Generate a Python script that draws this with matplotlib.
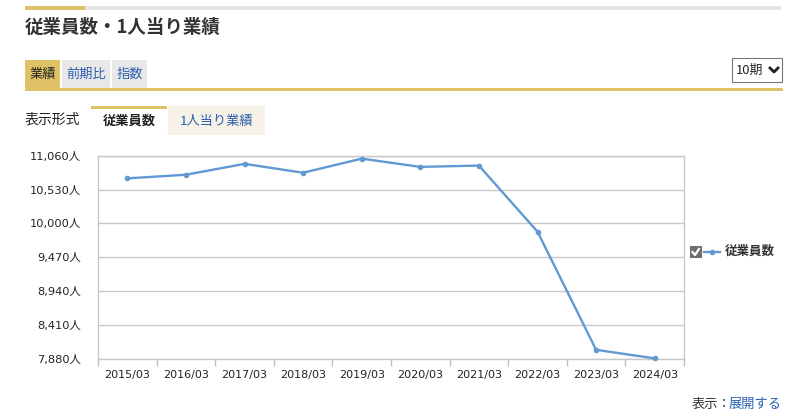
import matplotlib
matplotlib.use("Agg")
import matplotlib.pyplot as plt
from matplotlib.patches import Rectangle
from matplotlib.lines import Line2D

plt.rcParams['font.family'] = ['DejaVu Sans', 'Noto Sans CJK JP']

# ---- data ----
periods = ['2015/03', '2016/03', '2017/03', '2018/03', '2019/03',
           '2020/03', '2021/03', '2022/03', '2023/03', '2024/03']
employees = [10705, 10762, 10932, 10793, 11014, 10885, 10905, 9870, 8019, 7885]
yticks = [7880, 8410, 8940, 9470, 10000, 10530, 11060]
series_name = '従業員数'

W, H = 808, 420
fig = plt.figure(figsize=(W / 100, H / 100), dpi=100)
fig.patch.set_facecolor('white')

def fx(px):
    return px / W

def fy(py):
    return 1 - py / H

def rect(x0, y0, x1, y1, fc, ec='none', lw=0):
    r = Rectangle((fx(x0), fy(y1)), (x1 - x0) / W, (y1 - y0) / H,
                  transform=fig.transFigure, facecolor=fc, edgecolor=ec, lw=lw)
    fig.add_artist(r)

def txt(x, y, s, size, color='#333333', weight='normal', ha='left', va='center', fam=None):
    fam = fam or ['Noto Sans CJK JP', 'DejaVu Sans']
    fig.text(fx(x), fy(y), s, fontsize=size, color=color, weight=weight,
             ha=ha, va=va, family=fam)

GOLD = '#dfc266'
LINK = '#2b5fae'

# top decorative line
rect(25, 6, 85, 9.5, GOLD)
rect(85, 6, 781, 9.5, '#e2e2e2')

# title
txt(25, 27, '従業員数・1人当り業績', 13.3, color='#333333', weight='bold')

# tabs
rect(25, 60, 60, 88, GOLD)
rect(62, 60, 110, 88, '#e8e8e8')
rect(112, 60, 147, 88, '#e8e8e8')
txt(42.5, 74, '業績', 9.5, color='#222222', ha='center')
txt(86, 74, '前期比', 9.5, color=LINK, ha='center')
txt(129.5, 74, '指数', 9.5, color=LINK, ha='center')
rect(25, 88, 783, 91, GOLD)

# dropdown
rect(732, 58, 782, 82, 'white', ec='#777777', lw=0.8)
txt(736, 70, '10期', 9.3, color='#222222')
fig.add_artist(Line2D([fx(770), fx(774), fx(778)], [fy(68), fy(72), fy(68)],
                      transform=fig.transFigure, color='#222222', lw=2))

# display format
txt(25, 120, '表示形式', 10, color='#222222')
rect(91, 106, 167, 108.5, GOLD)
txt(129, 121, '従業員数', 9.5, color='#222222', weight='bold', ha='center')
rect(168, 106, 265, 135, '#f7f2e8')
txt(216.5, 121, '1人当り業績', 9.5, color=LINK, ha='center')

# ---- chart ----
left, right, top, bottom = 98, 684, 155.7, 358.7
ax = fig.add_axes([fx(left), fy(bottom), (right - left) / W, (bottom - top) / H])
x = list(range(len(periods)))
ax.plot(x, employees, color='#6199d2', lw=1.7, marker='o', markersize=3,
        clip_on=False, zorder=3)
ax.set_xlim(-0.5, len(periods) - 0.5)
ax.set_ylim(yticks[0], yticks[-1])
ax.set_yticks(yticks)
ax.set_yticklabels([f'{v:,}人' for v in yticks], fontsize=8.2, color='#222222')
ax.tick_params(axis='y', length=0, pad=12)
ax.yaxis.grid(True, color='#c8c8c8', lw=1)
ax.set_axisbelow(True)
ax.set_xticks([i - 0.5 for i in range(len(periods) + 1)])
ax.set_xticklabels([])
ax.set_xticks(x, minor=True)
ax.set_xticklabels(periods, minor=True, fontsize=8, color='#222222')
ax.tick_params(axis='x', which='major', length=5, color='#c0c0c0', width=1)
ax.tick_params(axis='x', which='minor', length=0, pad=8)
for s in ['left', 'right', 'bottom', 'top']:
    ax.spines[s].set_color('#c8c8c8')
    ax.spines[s].set_linewidth(1)

# legend
rect(689.5, 246, 701.5, 258, '#6e6e6e')
fig.add_artist(Line2D([fx(692.5), fx(695), fx(699)], [fy(252), fy(255), fy(249)],
                      transform=fig.transFigure, color='white', lw=1.6))
fig.add_artist(Line2D([fx(704), fx(720)], [fy(252), fy(252)],
                      transform=fig.transFigure, color='#6199d2', lw=1.7))
fig.add_artist(Line2D([fx(712)], [fy(252)], transform=fig.transFigure,
                      color='#6199d2', marker='o', markersize=3))
txt(725, 251.5, series_name, 9, color='#333333', weight='bold')

# bottom link
txt(782, 404, '展開する', 9.5, color=LINK, ha='right')
txt(731, 404, '表示：', 9.5, color='#333333', ha='right')

fig.savefig('out.png', dpi=100, facecolor='white')
